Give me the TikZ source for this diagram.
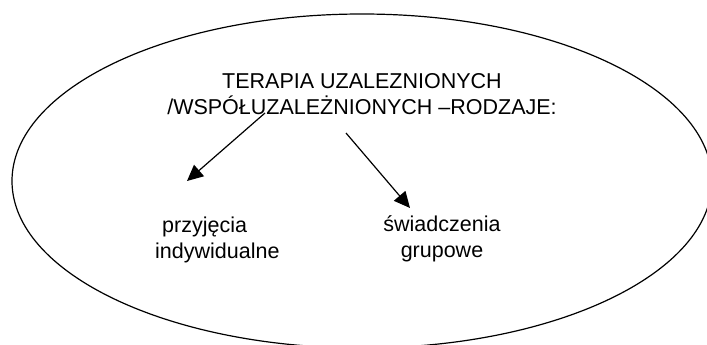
\documentclass[tikz,border=0pt]{standalone}
\usepackage{fontspec}
\setmainfont{Liberation Sans}
\usetikzlibrary{arrows.meta}

\begin{document}
\begin{tikzpicture}[x=1pt,y=-1pt]
\tikzstyle{napis}=[inner sep=0pt,font=\fontsize{21.5}{25.5}\selectfont]
\tikzstyle{strzalka}=[line width=1.2pt,-{Triangle[length=16pt,width=15pt]}]
\useasboundingbox (0,0) rectangle (707,345);
\draw[line width=1.2pt] (362,181) ellipse [x radius=350,y radius=167];
\node[napis,align=center,anchor=base] (tytul) at (362,114) {TERAPIA UZALEZNIONYCH\\/WSPÓŁUZALEŻNIONYCH –RODZAJE:};
\node[napis,align=left,anchor=base west] (indyw) at (155,258) {\hspace{7pt}przyjęcia\\indywidualne};
\node[napis,align=center,anchor=base] (grup) at (442,257) {świadczenia\\grupowe};
\foreach \name/\point in {
	s1/{265,113},
	e1/{187,181},
	s2/{346,133},
	e2/{410,208}}
	\coordinate (\name) at (\point);
\foreach \a/\b in {s1/e1,s2/e2}
	\draw[strzalka] (\a) -- (\b);
\end{tikzpicture}
\end{document}
